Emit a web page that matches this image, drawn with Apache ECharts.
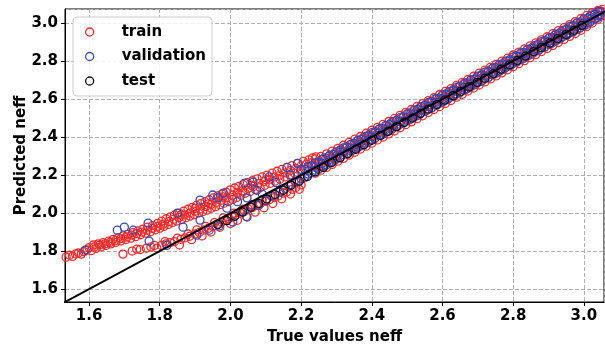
<!DOCTYPE html>
<html>
<head>
<meta charset="utf-8">
<script src="https://cdn.jsdelivr.net/npm/echarts@6/dist/echarts.min.js"></script>
<style>html,body{margin:0;padding:0;background:#fff}#c{width:605px;height:350px}</style>
</head>
<body>
<div id="c"></div>
<script>
// ---- data ----
const seriesNames = ['train', 'validation', 'test'];
const xTitle = 'True values neff';
const yTitle = 'Predicted neff';
const xRange = [1.532, 3.057];
const yRange = [1.532, 3.074];
const identityLine = [[1.50, 1.50], [3.10, 3.10]];

const trainUpperBranch = [
 [1.535,1.768],[1.545,1.778],[1.553,1.772],[1.562,1.785],[1.57,1.79],[1.578,1.784],[1.586,1.797],[1.594,1.806],
 [1.6,1.818],[1.606,1.802],[1.612,1.832],[1.62,1.814],[1.626,1.838],[1.634,1.822],[1.64,1.845],[1.648,1.83],
 [1.655,1.852],[1.662,1.838],[1.668,1.862],[1.676,1.846],[1.682,1.87],[1.69,1.853],[1.697,1.88],[1.704,1.861],
 [1.71,1.888],[1.718,1.868],[1.724,1.897],[1.732,1.876],[1.738,1.906],[1.746,1.886],[1.752,1.915],[1.76,1.894],
 [1.766,1.926],[1.774,1.902],[1.78,1.935],[1.788,1.912],[1.794,1.946],[1.8,1.92],[1.806,1.958],[1.812,1.93],
 [1.818,1.97],[1.824,1.94],[1.83,1.98],[1.836,1.95],[1.842,1.99],[1.848,1.958],[1.855,2.0],[1.862,1.966],
 [1.868,2.01],[1.874,1.976],[1.88,2.02],[1.886,1.984],[1.892,2.03],[1.898,1.992],[1.904,2.04],[1.91,2.0],
 [1.916,2.05],[1.922,2.008],[1.928,2.06],[1.934,2.016],[1.94,2.07],[1.946,2.026],[1.952,2.08],[1.958,2.034],
 [1.964,2.09],[1.97,2.044],[1.976,2.1],[1.982,2.052],[1.988,2.11],[1.994,2.06],[2.0,2.122],[2.006,2.072],
 [2.012,2.132],[2.018,2.082],[2.024,2.14],[2.03,2.094],[2.036,2.15],[2.042,2.104],[2.048,2.16],[2.056,2.114],
 [2.062,2.17],[2.07,2.124],[2.076,2.18],[2.084,2.134],[2.09,2.19],[2.098,2.146],[2.104,2.2],[2.112,2.156],
 [2.118,2.21],[2.126,2.168],[2.132,2.22],[2.14,2.178],[2.146,2.23],[2.154,2.19],[2.16,2.24],[2.168,2.2],
 [2.174,2.25],[2.182,2.21],[2.19,2.262],[2.198,2.222],[2.206,2.272],[2.214,2.232],[2.222,2.28],[2.232,2.29],
 [2.242,2.296],[1.86,1.99],[1.9,2.025],[1.94,2.05],[1.98,2.085],[2.02,2.11],[2.06,2.145],[2.1,2.175]
];
const trainUpperBranchMid = [
 [1.615,1.822],[1.63,1.832],[1.645,1.838],[1.66,1.846],[1.675,1.856],[1.69,1.866],[1.705,1.874],[1.72,1.884],
 [1.735,1.892],[1.75,1.9],[1.765,1.91],[1.78,1.92],[1.795,1.93],[1.81,1.942],[1.825,1.955],[1.84,1.968],
 [1.855,1.978],[1.87,1.99],[1.885,2.0],[1.9,2.01],[1.915,2.022],[1.93,2.034],[1.945,2.045],[1.96,2.056],
 [1.975,2.068],[1.99,2.08],[2.005,2.094],[2.02,2.104],[2.035,2.118],[2.05,2.13],[2.065,2.14],[2.08,2.155],
 [2.095,2.165],[2.11,2.178],[2.125,2.19],[2.14,2.2],[2.155,2.212],[2.17,2.225],[2.185,2.235],[2.2,2.248],
 [2.215,2.258],[2.23,2.265]
];
const trainLowerBranch = [
 [1.696,1.784],[1.722,1.8],[1.745,1.808],[1.762,1.815],[1.775,1.822],[1.792,1.816],[1.805,1.83],[1.818,1.838],
 [1.83,1.845],[1.842,1.85],[1.856,1.832],[1.86,1.862],[1.872,1.87],[1.885,1.878],[1.89,1.86],[1.9,1.89],
 [1.912,1.898],[1.92,1.88],[1.925,1.91],[1.938,1.92],[1.945,1.9],[1.95,1.93],[1.962,1.94],[1.97,1.925],
 [1.975,1.952],[1.985,1.962],[1.995,1.97],[2.0,1.945],[2.005,1.98],[2.015,1.99],[2.02,1.962],[2.028,2.0],
 [2.04,2.01],[2.045,1.982],[2.05,2.022],[2.062,2.03],[2.07,2.005],[2.075,2.042],[2.085,2.05],[2.095,2.028],
 [2.1,2.062],[2.11,2.07],[2.12,2.05],[2.125,2.082],[2.135,2.09],[2.145,2.075],[2.15,2.105],[2.16,2.112],
 [2.17,2.1],[2.175,2.125],[2.185,2.135],[2.195,2.125],[2.2,2.148],
 [1.735,1.81],[1.785,1.83],[1.815,1.85],[1.85,1.868],[1.88,1.89],[1.905,1.912],[1.93,1.93],[1.955,1.95],
 [1.98,1.975],[2.01,2.0],[2.035,2.02],[2.06,2.045],[2.09,2.07],[2.115,2.092],[2.14,2.115],[2.165,2.14],
 [2.19,2.162],[2.21,2.185]
];
const trainMainBand = [
 [2.24,2.21],[2.24,2.247],[2.24,2.285],[2.256,2.226],[2.256,2.262],[2.256,2.298],[2.272,2.24],[2.272,2.277],[2.272,2.312],
 [2.288,2.256],[2.288,2.292],[2.288,2.326],[2.304,2.273],[2.304,2.31],[2.304,2.341],[2.32,2.288],[2.32,2.325],[2.32,2.357],
 [2.336,2.305],[2.336,2.34],[2.336,2.372],[2.352,2.32],[2.352,2.356],[2.352,2.389],[2.368,2.337],[2.368,2.373],[2.368,2.403],
 [2.384,2.352],[2.384,2.39],[2.384,2.42],[2.4,2.368],[2.4,2.405],[2.4,2.436],[2.416,2.385],[2.416,2.42],[2.416,2.451],
 [2.432,2.4],[2.432,2.436],[2.432,2.467],[2.448,2.417],[2.448,2.452],[2.448,2.482],[2.464,2.432],[2.464,2.469],[2.464,2.498],
 [2.48,2.449],[2.48,2.484],[2.48,2.514],[2.496,2.465],[2.496,2.5],[2.496,2.53],[2.512,2.48],[2.512,2.517],[2.512,2.545],
 [2.528,2.497],[2.528,2.532],[2.528,2.561],[2.544,2.512],[2.544,2.548],[2.544,2.576],[2.56,2.529],[2.56,2.563],[2.56,2.592],
 [2.576,2.545],[2.576,2.58],[2.576,2.607],[2.592,2.56],[2.592,2.596],[2.592,2.624],[2.608,2.577],[2.608,2.612],[2.608,2.64],
 [2.624,2.593],[2.624,2.628],[2.624,2.655],[2.64,2.61],[2.64,2.644],[2.64,2.672],[2.656,2.625],[2.656,2.66],[2.656,2.688],
 [2.672,2.642],[2.672,2.676],[2.672,2.703],[2.688,2.658],[2.688,2.692],[2.688,2.72],[2.704,2.674],[2.704,2.708],[2.704,2.736],
 [2.72,2.69],[2.72,2.724],[2.72,2.752],[2.736,2.706],[2.736,2.74],[2.736,2.768],[2.752,2.722],[2.752,2.756],[2.752,2.783],
 [2.768,2.738],[2.768,2.772],[2.768,2.8],[2.784,2.754],[2.784,2.788],[2.784,2.815],[2.8,2.77],[2.8,2.804],[2.8,2.832],
 [2.816,2.786],[2.816,2.82],[2.816,2.847],[2.832,2.802],[2.832,2.836],[2.832,2.864],[2.848,2.818],[2.848,2.852],[2.848,2.88],
 [2.864,2.834],[2.864,2.868],[2.864,2.896],[2.88,2.85],[2.88,2.884],[2.88,2.912],[2.896,2.866],[2.896,2.9],[2.896,2.928],
 [2.912,2.882],[2.912,2.916],[2.912,2.944],[2.928,2.898],[2.928,2.932],[2.928,2.96],[2.944,2.914],[2.944,2.948],[2.944,2.976],
 [2.96,2.93],[2.96,2.964],[2.96,2.992],[2.976,2.945],[2.976,2.98],[2.976,3.008],[2.992,2.962],[2.992,2.996],[2.992,3.024],
 [3.008,2.982],[3.008,3.012],[3.008,3.04],[3.024,3.0],[3.024,3.028],[3.024,3.055],[3.04,3.02],[3.04,3.044],[3.04,3.066],
 [3.052,3.04],[3.052,3.06],[3.052,3.072]
];
const trainBandExtra = [
 [2.248,2.27],[2.248,2.232],[2.264,2.287],[2.264,2.248],[2.28,2.302],[2.28,2.265],[2.296,2.318],[2.296,2.28],
 [2.312,2.334],[2.312,2.297],[2.328,2.35],[2.328,2.312],[2.344,2.365],[2.344,2.329],[2.36,2.381],[2.36,2.344],
 [2.376,2.397],[2.376,2.36],[2.392,2.413],[2.392,2.377],[2.408,2.428],[2.408,2.392],[2.424,2.445],[2.424,2.409],
 [2.44,2.46],[2.44,2.424],[2.456,2.476],[2.456,2.44],[2.472,2.492],[2.472,2.457],[2.488,2.508],[2.488,2.472],
 [2.504,2.524],[2.504,2.489],[2.52,2.54],[2.52,2.504],[2.536,2.556],[2.536,2.52],[2.552,2.571],[2.552,2.537],
 [2.568,2.588],[2.568,2.552],[2.584,2.603],[2.584,2.569],[2.6,2.62],[2.6,2.584],[2.616,2.635],[2.616,2.601],
 [2.632,2.651],[2.632,2.616],[2.648,2.667],[2.648,2.633],[2.664,2.683],[2.664,2.648],[2.68,2.699],[2.68,2.665],
 [2.696,2.715],[2.696,2.68],[2.712,2.731],[2.712,2.697],[2.728,2.746],[2.728,2.712],[2.744,2.763],[2.744,2.729],
 [2.76,2.778],[2.76,2.744],[2.776,2.795],[2.776,2.761],[2.792,2.81],[2.792,2.776],[2.808,2.827],[2.808,2.793],
 [2.824,2.842],[2.824,2.808],[2.84,2.859],[2.84,2.825],[2.856,2.874],[2.856,2.84],[2.872,2.891],[2.872,2.857],
 [2.888,2.906],[2.888,2.872],[2.904,2.923],[2.904,2.889],[2.92,2.938],[2.92,2.904],[2.936,2.955],[2.936,2.921],
 [2.952,2.97],[2.952,2.936],[2.968,2.987],[2.968,2.953],[2.984,3.002],[2.984,2.968],[3.0,3.019],[3.0,2.986],
 [3.016,3.034],[3.016,3.003],[3.032,3.05],[3.032,3.022],[3.046,3.064],[3.046,3.038]
];
const validationLowEnd = [
 [1.589,1.805],[1.68,1.91],[1.70,1.926],[1.725,1.91],[1.77,1.853],[1.767,1.947],[1.82,1.83],[1.85,2.0],
 [1.866,1.926],[1.914,2.068],[1.914,1.963],[1.905,1.884],[1.95,2.095],[1.965,2.08],[1.98,2.105],[1.968,1.932],
 [1.99,2.026],[2.04,2.158],[2.064,2.163],[2.007,1.953],[2.047,1.979],[2.047,2.08],[2.075,2.12],[2.11,2.19],
 [2.16,2.24],[2.19,2.262],[2.08,2.04],[2.1,2.065],[2.12,2.09],[2.14,2.11],[2.155,2.13],[2.17,2.15],
 [2.185,2.165],[2.2,2.18],[2.13,2.16],[2.17,2.2],[2.2,2.23],[2.03,2.01],[2.06,2.04],[1.94,1.91],
 [2.02,2.06],[2.09,2.1]
];
const validationMainBand = [
 [2.21,2.19],[2.21,2.23],[2.23,2.212],[2.23,2.248],[2.25,2.232],[2.25,2.268],[2.27,2.252],[2.27,2.29],
 [2.29,2.272],[2.29,2.308],[2.31,2.293],[2.31,2.328],[2.33,2.313],[2.33,2.347],[2.35,2.334],[2.35,2.368],
 [2.37,2.354],[2.37,2.388],[2.39,2.374],[2.39,2.407],[2.41,2.395],[2.41,2.428],[2.43,2.414],[2.43,2.447],
 [2.45,2.435],[2.45,2.467],[2.47,2.455],[2.47,2.487],[2.49,2.475],[2.49,2.506],[2.51,2.495],[2.51,2.527],
 [2.53,2.514],[2.53,2.546],[2.55,2.535],[2.55,2.566],[2.57,2.555],[2.57,2.586],[2.59,2.575],[2.59,2.605],
 [2.61,2.595],[2.61,2.626],[2.63,2.614],[2.63,2.645],[2.65,2.635],[2.65,2.666],[2.67,2.655],[2.67,2.686],
 [2.69,2.675],[2.69,2.705],[2.71,2.695],[2.71,2.726],[2.73,2.714],[2.73,2.745],[2.75,2.735],[2.75,2.766],
 [2.77,2.755],[2.77,2.785],[2.79,2.775],[2.79,2.806],[2.81,2.795],[2.81,2.826],[2.83,2.815],[2.83,2.845],
 [2.85,2.835],[2.85,2.866],[2.87,2.855],[2.87,2.886],[2.89,2.875],[2.89,2.905],[2.91,2.895],[2.91,2.926],
 [2.93,2.915],[2.93,2.945],[2.95,2.935],[2.95,2.966],[2.97,2.955],[2.97,2.986],[2.99,2.975],[2.99,3.006],
 [3.01,2.995],[3.01,3.026],[3.03,3.02],[3.03,3.046],[3.045,3.04],[3.045,3.062]
];
const validationMid = [
 [2.22,2.222],[2.24,2.241],[2.26,2.262],[2.28,2.281],[2.3,2.302],[2.32,2.321],[2.34,2.342],[2.36,2.361],
 [2.38,2.382],[2.4,2.401],[2.42,2.422],[2.44,2.441],[2.46,2.462],[2.48,2.481],[2.5,2.502],[2.52,2.521],
 [2.54,2.542],[2.56,2.561],[2.58,2.582],[2.6,2.601],[2.62,2.622],[2.64,2.641],[2.66,2.662],[2.68,2.681],
 [2.7,2.702],[2.72,2.721],[2.74,2.742],[2.76,2.761],[2.78,2.782],[2.8,2.801],[2.82,2.822],[2.84,2.841],
 [2.86,2.862],[2.88,2.881],[2.9,2.902],[2.92,2.921],[2.94,2.942],[2.96,2.961],[2.98,2.982],[3.0,3.001],
 [3.02,3.022],[3.04,3.041]
];
const validationBandExtra = [
 [2.22,2.245],[2.22,2.205],[2.24,2.264],[2.24,2.226],[2.26,2.283],[2.26,2.246],[2.28,2.303],[2.28,2.267],
 [2.3,2.322],[2.3,2.287],[2.32,2.343],[2.32,2.308],[2.34,2.362],[2.34,2.328],[2.36,2.383],[2.36,2.348],
 [2.38,2.402],[2.38,2.368],[2.4,2.423],[2.4,2.388],[2.42,2.442],[2.42,2.408],[2.44,2.462],[2.44,2.428],
 [2.46,2.482],[2.46,2.448],[2.48,2.502],[2.48,2.468],[2.5,2.522],[2.5,2.488],[2.52,2.542],[2.52,2.508],
 [2.54,2.561],[2.54,2.528],[2.56,2.582],[2.56,2.548],[2.58,2.601],[2.58,2.568],[2.6,2.622],[2.6,2.588],
 [2.62,2.641],[2.62,2.608],[2.64,2.662],[2.64,2.628],[2.66,2.681],[2.66,2.648],[2.68,2.702],[2.68,2.668],
 [2.7,2.721],[2.7,2.688],[2.72,2.742],[2.72,2.708],[2.74,2.761],[2.74,2.728],[2.76,2.782],[2.76,2.748],
 [2.78,2.801],[2.78,2.768],[2.8,2.822],[2.8,2.788],[2.82,2.841],[2.82,2.808],[2.84,2.862],[2.84,2.828],
 [2.86,2.881],[2.86,2.848],[2.88,2.902],[2.88,2.868],[2.9,2.921],[2.9,2.888],[2.92,2.942],[2.92,2.908],
 [2.94,2.961],[2.94,2.928],[2.96,2.982],[2.96,2.948],[2.98,3.001],[2.98,2.968],[3.0,3.022],[3.0,2.988],
 [3.02,3.041],[3.02,3.008],[3.04,3.06],[3.04,3.03]
];
const testPoints = [
 [1.965,1.94],[1.99,1.96],[2.012,1.983],[2.035,2.005],[2.058,2.03],[2.08,2.05],[2.103,2.074],[2.126,2.098],
 [2.15,2.12],[2.172,2.146],[2.195,2.168],[2.218,2.193],[2.24,2.217],[2.263,2.24],[2.286,2.265],[2.31,2.29],
 [2.332,2.312],[2.355,2.336],[2.378,2.36],[2.4,2.383],[2.424,2.408],[2.446,2.43],[2.47,2.455],[2.492,2.478],
 [2.515,2.5],[2.538,2.524],[2.56,2.547],[2.584,2.571],[2.606,2.594],[2.63,2.618],[2.652,2.641],[2.675,2.664],
 [2.698,2.688],[2.72,2.71],[2.744,2.734],[2.766,2.757],[2.79,2.78],[2.812,2.803],[2.835,2.826],[2.858,2.85],
 [2.88,2.872],[2.904,2.895],[2.926,2.918],[2.95,2.94],[2.972,2.962],[2.995,2.988]
];
const seriesColors = ['#f02a2a', '#3b48b0', '#111111'];

// ---- chart ----
const chart = echarts.init(document.getElementById('c'), null, {renderer: 'canvas'});
const bold = {fontFamily: 'DejaVu Sans', fontWeight: 'bold', color: '#000'};
function scatter(name, data, color, z) {
  return {
    name, type: 'scatter', data, symbol: 'circle', symbolSize: 8, z,
    itemStyle: {color: 'rgba(0,0,0,0)', borderColor: color, borderWidth: 1.3, opacity: 1},
    emphasis: {disabled: true}, silent: true
  };
}
const axisCommon = {
  type: 'value', splitNumber: 8,
  axisLine: {show: true, onZero: false, lineStyle: {color: '#000', width: 1}},
  axisTick: {show: true, inside: false, length: 4, lineStyle: {color: '#000', width: 1}},
  axisLabel: Object.assign({fontSize: 15, margin: 7, showMinLabel: false, showMaxLabel: false,
    formatter: v => v.toFixed(1)}, bold),
  splitLine: {show: true, lineStyle: {color: '#b0b0b0', width: 1, type: [4, 2]}},
  nameLocation: 'middle',
  nameMoveOverlap: false,
  nameTextStyle: Object.assign({fontSize: 15}, bold)
};
chart.setOption({
  animation: false,
  backgroundColor: '#fff',
  grid: {left: 65, right: 1, top: 9, bottom: 48, show: true, borderColor: '#000', borderWidth: 1,
         backgroundColor: 'transparent', outerBoundsMode: 'none', containLabel: false},
  xAxis: Object.assign({}, axisCommon, {min: xRange[0], max: xRange[1], name: xTitle, nameGap: 28}),
  yAxis: Object.assign({}, axisCommon, {min: yRange[0], max: yRange[1], name: yTitle, nameGap: 36}),
  legend: {
    data: seriesNames.map((n, i) => ({name: n, icon: 'circle',
      itemStyle: {color: 'rgba(0,0,0,0)', borderColor: seriesColors[i], borderWidth: 1.3}})),
    orient: 'vertical', left: 73, top: 17,
    itemWidth: 18, itemHeight: 8, itemGap: 6.5,
    padding: [6, 6, 6, 12],
    backgroundColor: 'rgba(255,255,255,0.85)', borderColor: '#cccccc', borderWidth: 1, borderRadius: 4,
    textStyle: Object.assign({fontSize: 15, lineHeight: 18, padding: [0, 0, 0, 18]}, bold),
    selectedMode: false
  },
  series: [
    scatter('train', trainUpperBranch.concat(trainUpperBranchMid, trainLowerBranch, trainMainBand, trainBandExtra), seriesColors[0], 2),
    scatter('validation', validationLowEnd.concat(validationMainBand, validationMid, validationBandExtra), seriesColors[1], 3),
    scatter('test', testPoints, seriesColors[2], 4),
    {name: 'identity', type: 'line', data: identityLine, symbol: 'none', z: 5, silent: true,
     lineStyle: {color: '#000', width: 2}, clip: true}
  ]
});
</script>
</body>
</html>
